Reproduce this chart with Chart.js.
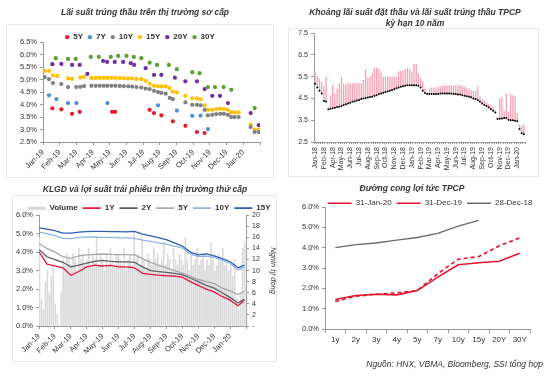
<!DOCTYPE html>
<html>
<head>
<meta charset="utf-8">
<script src="https://cdn.jsdelivr.net/npm/chart.js@4.4.1/dist/chart.umd.min.js"></script>
<style>
  body { margin: 0; background: #fff; width: 550px; height: 379px; position: relative; overflow: hidden;
         font-family: "Liberation Sans", Arial, sans-serif; }
  canvas { position: absolute; }
  .box { position: absolute; border: 1px solid #e8e8e8; }
  #src { position: absolute; right: 7px; top: 359px; font-style: italic; font-size: 8.5px; color: #333; }
</style>
</head>
<body>
<div class="box" style="left:6px;top:24px;width:266px;height:152px"></div>
<div class="box" style="left:288px;top:28px;width:249px;height:147px"></div>
<div class="box" style="left:12px;top:195px;width:263px;height:165px"></div>

<canvas id="c1" width="275" height="182" style="left:0;top:0"></canvas>
<canvas id="c2" width="252" height="180" style="left:288px;top:0"></canvas>
<canvas id="c3" width="282" height="183" style="left:0;top:182px"></canvas>
<canvas id="c4" width="270" height="167" style="left:280px;top:182px"></canvas>
<div id="src">Nguồn: HNX, VBMA, Bloomberg, SSI tổng hợp</div>

<script>
// ---- chart 1: primary auction winning yields, [month index from Jan-19, %]
const months1 = ['Jan-19','Feb-19','Mar-19','Apr-19','May-19','Jun-19','Jul-19','Aug-19','Sep-19','Oct-19','Nov-19','Dec-19','Jan-20'];
const auction5Y = [[0.56,3.85],[1.1,3.81],[1.74,3.63],[2.2,3.71],[4.14,3.71],[4.32,3.71],[6.39,3.79],[6.65,3.66],[7.09,3.57],[7.78,3.33],[8.53,3.15],[9.22,2.9],[9.68,2.86]];
const auction7Y = [[0.36,4.37],[0.8,4.22],[1.5,4.06],[2.0,4.06],[3.86,4.06],[6.89,3.97],[8.02,3.76],[8.94,3.55],[9.44,3.56],[9.88,3.02]];
const auction10Y = [[0.1,5.1],[0.36,5.02],[0.6,4.86],[1.1,4.82],[1.5,4.7],[2.0,4.7],[2.24,4.71],[2.46,4.74],[2.9,4.75],[3.16,4.75],[3.4,4.75],[3.64,4.75],[3.86,4.75],[4.1,4.75],[4.34,4.75],[4.6,4.74],[4.84,4.74],[5.1,4.73],[5.34,4.72],[5.6,4.7],[5.89,4.68],[6.15,4.64],[6.39,4.62],[6.65,4.55],[6.89,4.5],[7.09,4.47],[7.35,4.44],[7.59,4.27],[7.78,4.22],[8.53,4.09],[8.94,3.99],[9.22,3.99],[9.44,3.97],[9.68,3.79],[9.88,3.57],[10.14,3.59],[10.38,3.62],[10.62,3.63],[10.84,3.63],[11.08,3.59],[11.28,3.5],[11.48,3.5],[11.72,3.5],[12.44,3.1],[12.68,2.9],[12.92,2.9]];
const auction15Y = [[0.1,5.35],[0.36,5.35],[0.6,5.17],[0.86,5.15],[1.5,5.05],[1.74,5.03],[2.24,5.09],[2.46,5.11],[2.9,5.07],[3.16,5.07],[3.4,5.07],[3.64,5.07],[3.86,5.07],[4.1,5.07],[4.34,5.07],[4.6,5.06],[4.84,5.06],[5.1,5.05],[5.34,5.05],[5.6,5.03],[5.89,5.02],[6.15,4.95],[6.39,4.83],[6.65,4.75],[6.89,4.73],[7.09,4.73],[7.35,4.73],[7.59,4.66],[7.78,4.52],[8.02,4.48],[8.53,4.35],[8.94,4.25],[9.22,4.25],[9.44,4.21],[9.68,3.97],[9.88,3.79],[10.14,3.79],[10.38,3.82],[10.62,3.83],[10.84,3.82],[11.08,3.79],[11.28,3.69],[11.48,3.69],[11.72,3.69],[12.44,3.2],[12.68,3.0],[12.92,3.0]];
const auction20Y = [[0.56,5.62],[1.1,5.63],[1.74,5.59],[2.2,5.59],[2.66,5.23],[3.6,5.75],[3.84,5.71],[4.3,5.71],[4.8,5.71],[5.26,5.66],[5.46,5.59],[6.15,5.46],[6.65,5.19],[7.09,5.19],[7.9,5.08],[8.53,4.93],[9.22,4.93],[9.68,4.62],[10.14,4.35],[10.6,4.35],[11.08,4.06],[12.44,3.66],[12.92,3.18]];
const auction30Y = [[0.76,5.86],[1.5,5.83],[1.96,5.83],[2.86,5.91],[3.34,5.91],[4.06,5.91],[4.5,5.95],[5.0,5.95],[5.44,5.91],[5.89,5.86],[6.39,5.68],[6.83,5.59],[7.54,5.59],[8.02,5.42],[8.94,5.3],[9.38,5.26],[9.88,4.7],[10.3,4.7],[10.82,4.7],[11.28,4.59],[12.68,3.86]];

// ---- chart 2: 10-year auctions, bid range top and winning yield
const ticks2 = [2.5, 3.5, 4.5, 5.5, 6.5, 7.5];
const monthTicks2 = ['Jan-18','Feb-18','Apr-18','May-18','Jun-18','Jul-18','Aug-18','Sep-18','Oct-18','Nov-18','Dec-18','Jan-19','Feb-19','Mar-19','Apr-19','May-19','Jun-19','Jul-19','Aug-19','Sep-19','Oct-19','Nov-19','Dec-19','Jan-20'];
const bidHigh = [
  5.73,5.55,5.4,5.25, 5.05,5.5,4.05,4.64,
  5.1,4.72,4.95,5.2, 5.5,5.2,5.14,5.2,
  5.2,5.2,5.2,5.2, 5.2,5.2,5.35,5.84,
  5.45,5.5,5.65,5.9, 5.9,5.85,5.7,5.5,
  5.5,5.5,5.5,5.5, 5.5,5.5,5.75,5.77,
  5.77,5.85,5.9,5.85, 5.75,6.08,6.08,5.66,
  5.45,5.27,4.95,4.72, 4.95,5.0,5.0,4.95,
  5.05,5.05,5.1,5.1, 5.1,5.1,5.1,5.1,
  5.1,5.1,5.1,5.05, 5.03,4.95,4.95,4.88,
  4.85,4.85,5.05,4.6, 4.45,4.4,4.3,4.25,
  4.2,4.1,3.95,3.65, 4.5,4.55,3.95,4.72,
  3.9,4.7,4.65,4.6, 3.8,3.3,3.25,3.3
];
const winRate = [
  5.17,5.0,4.85,4.72, 4.38,4.36,4.0,4.03,
  4.05,4.07,4.1,4.12, 4.15,4.2,4.23,4.27,
  4.3,4.35,4.37,4.4, 4.43,4.47,4.5,4.52,
  4.54,4.56,4.58,4.62, 4.65,4.7,4.73,4.76,
  4.79,4.82,4.85,4.88, 4.92,4.96,5.0,5.03,
  5.06,5.08,5.1,5.1, 5.1,5.1,5.1,5.08,
  5.0,4.85,4.75,4.7, 4.7,4.7,4.7,4.7,
  4.7,4.72,4.72,4.72, 4.72,4.72,4.72,4.7,
  4.7,4.68,4.68,4.65, 4.62,4.6,4.57,4.55,
  4.5,4.47,4.42,4.35, 4.27,4.2,4.15,4.08,
  4.0,3.93,3.85,3.55, 3.57,3.58,3.6,3.6,
  3.52,3.5,3.5,3.48, 3.45,3.1,2.9,2.85
];

// ---- chart 3: secondary market yields (month index from Jan-19) and volume
const months3 = ['Jan-19','Feb-19','Mar-19','Apr-19','May-19','Jun-19','Jul-19','Aug-19','Sep-19','Oct-19','Nov-19','Dec-19','Jan-20'];
const dates3 = [0,0.5,1,1.5,2,2.5,3,3.5,4,4.5,5,5.5,6,6.5,7,7.5,8,8.5,9,9.5,10,10.5,11,11.5,12,12.5,12.9];
const yield1Y = [4.02,3.35,3.25,3.15,2.75,2.95,3.2,3.3,3.25,3.28,3.2,3.2,3.15,2.85,2.8,2.75,2.72,2.7,2.65,2.4,2.2,2.0,1.85,1.6,1.4,1.1,1.4];
const yield2Y = [4.15,3.75,3.6,3.45,3.2,3.3,3.4,3.5,3.55,3.5,3.48,3.47,3.45,3.2,3.0,2.95,2.9,2.85,2.78,2.6,2.4,2.2,2.05,1.8,1.55,1.25,1.45];
const yield5Y = [4.47,4.2,4.0,3.75,3.66,3.8,3.85,3.88,3.9,3.88,3.87,3.87,3.85,3.65,3.45,3.3,3.15,3.0,2.87,2.68,2.52,2.4,2.3,2.05,1.9,1.7,1.88];
const yield10Y = [5.08,5.0,4.9,4.75,4.73,4.8,4.83,4.82,4.8,4.8,4.78,4.77,4.74,4.65,4.58,4.5,4.43,4.33,4.22,3.9,3.76,3.78,3.72,3.58,3.4,3.05,3.18];
const yield15Y = [5.31,5.25,5.16,5.03,5.03,5.08,5.11,5.12,5.12,5.11,5.11,5.1,5.12,4.98,4.88,4.78,4.68,4.5,4.33,4.0,3.85,3.9,3.8,3.65,3.48,3.15,3.3];
const volume = [
  16,5,3,8,10,6,9,11,
  4,2,0,6,12,11,13,12,
  11,13,12,10,14,12,13,11,
  12,14,11,13,12,16,11,13,
  12,10,13,11,14,12,11,13,
  13,12,11,14,10,12,13,11,
  17,12,13,11,16,12,10,13,
  12,11,14,12,13,11,12,15,
  11,13,12,10,14,12,11,13,
  12,11,16,12,10,13,11,12,
  14,11,12,13,10,12,11,15,
  12,10,11,13,12,14,11,12,
  10,11,9,12,5,3,6,14,
  15
];

// ---- chart 4: yield curves
const tenors = ['1y','2y','3y','4y','5y','7y','10y','15y','20Y','30Y'];
const curveJan20 = [1.45,1.65,1.71,1.68,1.89,2.55,3.16,3.26,3.33,3.72];
const curveDec19 = [1.35,1.61,1.71,1.78,1.89,2.72,3.43,3.56,4.09,4.48];
const curveDec18 = [4.0,4.15,4.23,4.37,4.5,4.7,5.06,5.34,null,null];

Chart.defaults.font.family = '"Liberation Sans", Arial, sans-serif';
Chart.defaults.color = '#333';
Chart.defaults.animation = false;
Chart.defaults.responsive = false;
Chart.defaults.plugins.tooltip.enabled = false;

const axisColor = '#999';
const tickFont = { size: 7.5 };
const titleFont = { size: 8.5, style: 'italic' };

// legend height is forced so the plot starts where the reference has it
function legendHeight(h) {
  return {
    id: 'legendHeight',
    beforeInit(chart) {
      const fit = chart.legend.fit;
      chart.legend.fit = function () {
        fit.call(this);
        this.height = h;
      };
    }
  };
}

// nudge title / legend sideways after layout (reference centres them off the plot)
function shiftBoxes(titleDx, legendDx) {
  return {
    id: 'shiftBoxes',
    afterLayout(chart) {
      if (chart.titleBlock) { chart.titleBlock.left += titleDx; chart.titleBlock.right += titleDx; }
      if (chart.legend) { chart.legend.left += legendDx; chart.legend.right += legendDx; }
    }
  };
}

function axisGrid(len) {
  return { drawOnChartArea: false, tickLength: len, color: axisColor };
}

// chart 1
const scatterSet = (label, data, color) => ({
  label, data, backgroundColor: color, borderColor: color,
  pointRadius: 2.1, pointBorderWidth: 0, showLine: false
});

new Chart(document.getElementById('c1'), {
  type: 'scatter',
  data: {
    datasets: [
      scatterSet('5Y', auction5Y, '#e31b2e'),
      scatterSet('7Y', auction7Y, '#4a90d9'),
      scatterSet('10Y', auction10Y, '#808080'),
      scatterSet('15Y', auction15Y, '#ffc000'),
      scatterSet('20Y', auction20Y, '#7030a0'),
      scatterSet('30Y', auction30Y, '#5a9e34')
    ]
  },
  options: {
    layout: { padding: { left: 8, right: 15, top: 0, bottom: 0 } },
    plugins: {
      title: { display: true, text: 'Lãi suất trúng thầu trên thị trường sơ cấp', font: titleFont,
               color: '#333', padding: { top: 8, bottom: 10 } },
      legend: {
        labels: { usePointStyle: true, pointStyle: 'circle', boxWidth: 4, boxHeight: 3, padding: 5,
                  font: { size: 8, weight: 'bold' }, color: '#333' }
      }
    },
    scales: {
      x: {
        type: 'linear', min: 0, max: 13,
        ticks: { stepSize: 1, autoSkip: false, minRotation: 45, maxRotation: 45, font: tickFont,
                 callback: v => months1[v] ?? '' },
        grid: axisGrid(3), border: { color: axisColor },
        afterFit: s => { s.height = 40; }
      },
      y: {
        min: 2.5, max: 6.5,
        ticks: { stepSize: 0.5, font: tickFont, callback: v => v.toFixed(1) + '%' },
        grid: axisGrid(3), border: { color: axisColor },
        afterFit: s => { s.width = 35; }
      }
    }
  },
  plugins: [legendHeight(14), shiftBoxes(11, 6)]
});

// chart 2
const labels2 = bidHigh.map((_, i) => (i % 4 === 0 ? monthTicks2[i / 4] : ''));

new Chart(document.getElementById('c2'), {
  type: 'bar',
  data: {
    labels: labels2,
    datasets: [
      { type: 'line', label: 'Trúng thầu', data: winRate, showLine: false, pointRadius: 1,
        pointBackgroundColor: '#000', pointBorderWidth: 0, borderColor: '#000' },
      { label: 'Đặt thầu', data: winRate.map((w, i) => [w, bidHigh[i]]), backgroundColor: '#f4a1b2',
        barPercentage: 0.6, categoryPercentage: 1 }
    ]
  },
  options: {
    layout: { padding: { left: 8, right: 15, top: 0, bottom: 0 } },
    plugins: {
      title: { display: true, text: ['Khoảng lãi suất đặt thầu và lãi suất trúng thầu TPCP', 'kỳ hạn 10 năm'],
               font: titleFont, color: '#333', padding: { top: 8, bottom: 4.6 } },
      legend: { display: false }
    },
    scales: {
      x: {
        ticks: { autoSkip: false, minRotation: 90, maxRotation: 90, font: { size: 7 } },
        grid: axisGrid(2), border: { color: axisColor },
        afterFit: s => { s.height = 38; }
      },
      y: {
        min: 2.5, max: 7.5,
        afterBuildTicks: s => { s.ticks = ticks2.map(v => ({ value: v })); },
        ticks: { font: { size: 7 }, callback: v => v.toFixed(1) },
        grid: axisGrid(3), border: { color: axisColor },
        afterFit: s => { s.width = 18; }
      }
    }
  },
  plugins: [shiftBoxes(4.5, 0)]
});

// chart 3
const lineSet = (label, values, color) => ({
  label, data: dates3.map((m, i) => [m, values[i]]), borderColor: color, backgroundColor: color,
  borderWidth: 1.3, pointRadius: 0, tension: 0, xAxisID: 'x', yAxisID: 'y', order: 1
});

new Chart(document.getElementById('c3'), {
  type: 'line',
  data: {
    datasets: [
      { type: 'bar', label: 'Volume', data: volume, backgroundColor: '#dadada', borderWidth: 0,
        barThickness: 1, xAxisID: 'xv', yAxisID: 'y2', order: 2 },
      lineSet('1Y', yield1Y, '#e3173b'),
      lineSet('2Y', yield2Y, '#5f5f5f'),
      lineSet('5Y', yield5Y, '#a8a8a8'),
      lineSet('10Y', yield10Y, '#8fb5e4'),
      lineSet('15Y', yield15Y, '#2f5db5')
    ]
  },
  options: {
    layout: { padding: { left: 10, right: 2, top: 0, bottom: 0 } },
    plugins: {
      title: { display: true, text: 'KLGD và lợi suất trái phiếu trên thị trường thứ cấp', font: titleFont,
               color: '#333', padding: { top: 3, bottom: 4 } },
      legend: {
        labels: {
          usePointStyle: true, pointStyle: 'line', pointStyleWidth: 18, padding: 5,
          font: { size: 8, weight: 'bold' }, color: '#333',
          sort: (a, b) => a.datasetIndex - b.datasetIndex,
          generateLabels: chart => Chart.defaults.plugins.legend.labels.generateLabels(chart).map(l => {
            if (l.text === 'Volume') { l.strokeStyle = '#d6d6d6'; l.lineWidth = 3; }
            else { l.lineWidth = 1.8; }
            return l;
          })
        }
      }
    },
    scales: {
      x: {
        type: 'linear', min: 0, max: 13,
        ticks: { stepSize: 1, autoSkip: false, minRotation: 45, maxRotation: 45, font: tickFont,
                 callback: v => months3[v] ?? '' },
        grid: axisGrid(3), border: { color: axisColor },
        afterFit: s => { s.height = 39; }
      },
      xv: { type: 'category', labels: volume.map((_, i) => i), display: false, offset: true },
      y: {
        position: 'left', min: 0, max: 6,
        ticks: { stepSize: 1, font: tickFont, callback: v => v.toFixed(1) + '%' },
        grid: axisGrid(3), border: { color: axisColor },
        afterFit: s => { s.width = 29; }
      },
      y2: {
        position: 'right', min: 0, max: 20,
        ticks: { stepSize: 2, autoSkip: false, font: { size: 7 }, callback: v => (v === 0 ? '-' : v) },
        title: { display: true, text: 'Nghìn tỷ đồng', font: { size: 7.5, style: 'italic' }, padding: 2 },
        grid: axisGrid(3), border: { color: axisColor },
        afterFit: s => { s.width = 34; }
      }
    }
  },
  plugins: [legendHeight(16), shiftBoxes(0, 4)]
});

// chart 4
new Chart(document.getElementById('c4'), {
  type: 'line',
  data: {
    labels: tenors,
    datasets: [
      { label: '31-Jan-20', data: curveJan20, borderColor: '#e0152d', backgroundColor: '#e0152d',
        borderWidth: 1.6, pointRadius: 0 },
      { label: '31-Dec-19', data: curveDec19, borderColor: '#e0152d', backgroundColor: '#e0152d',
        borderWidth: 1.6, borderDash: [4, 3], pointRadius: 0 },
      { label: '28-Dec-18', data: curveDec18, borderColor: '#6b6b6b', backgroundColor: '#6b6b6b',
        borderWidth: 1.4, pointRadius: 0 }
    ]
  },
  options: {
    layout: { padding: { left: 14, right: 20, top: 0, bottom: 0 } },
    plugins: {
      title: { display: true, text: 'Đường cong lợi tức TPCP', font: titleFont, color: '#333',
               padding: { top: 2, bottom: 0 } },
      legend: {
        labels: { usePointStyle: true, pointStyle: 'line', pointStyleWidth: 24, padding: 5,
                  font: { size: 8 }, color: '#333' }
      }
    },
    scales: {
      x: {
        offset: true,
        ticks: { font: { size: 8 }, padding: 2 },
        grid: { offset: true, drawOnChartArea: false, tickLength: 4, color: axisColor },
        border: { color: axisColor },
        afterFit: s => { s.height = 20; }
      },
      y: {
        min: 0, max: 6,
        ticks: { stepSize: 1, font: tickFont, callback: v => v.toFixed(1) + '%' },
        grid: axisGrid(3), border: { color: axisColor },
        afterFit: s => { s.width = 31; }
      }
    }
  },
  plugins: [legendHeight(12.8), shiftBoxes(0, 18)]
});
</script>
</body>
</html>
